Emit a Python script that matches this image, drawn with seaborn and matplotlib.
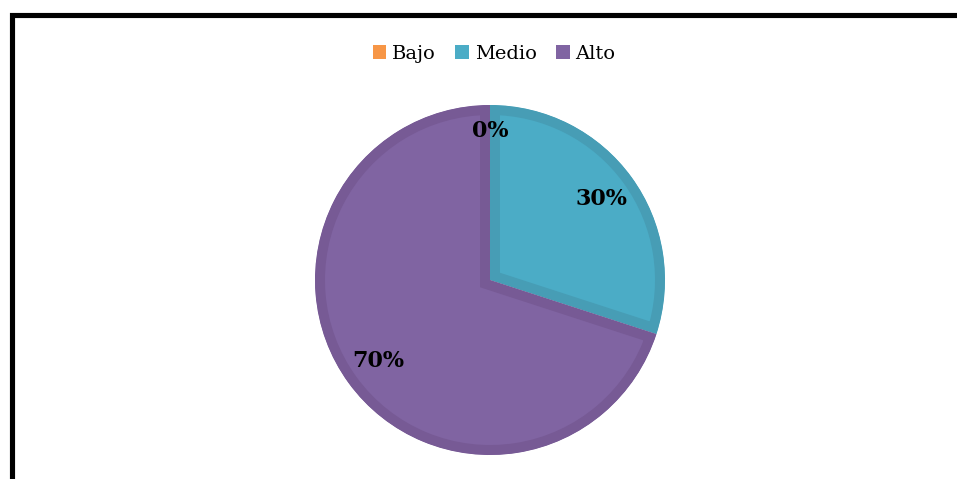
import numpy as np
import matplotlib
matplotlib.use("Agg")
import matplotlib.pyplot as plt
from matplotlib.patches import Rectangle, Patch
import seaborn as sns

# Survey level distribution
categories = ["Bajo", "Medio", "Alto"]
values = [0, 30, 70]
fill_colors = ["#F79646", "#4BACC6", "#8064A2"]
rim_colors = ["#D9803A", "#479DB5", "#775A95"]
label_dist = [0.85, 0.79, 0.79]

sns.set_theme(style="white")
plt.rcParams["font.family"] = ["DejaVu Serif", "DejaVu Sans"]

W, H = 957, 479
fig = plt.figure(figsize=(W / 100, H / 100), dpi=100)
ax = fig.add_axes([0, 0, 1, 1])

cx, cy, r = 490, H - 280, 175
wedges, _ = ax.pie(values, colors=fill_colors, startangle=90, counterclock=False,
                   center=(cx, cy), radius=r,
                   wedgeprops=dict(linewidth=0))

# Darker inner rim on each slice: a thick stroke clipped to the slice itself
for w, rc in zip(wedges, rim_colors):
    w.set_edgecolor(rc)
    w.set_linewidth(14.4)
    w.set_joinstyle("miter")
    w.set_clip_path(w)
    w.set_clip_on(True)

# Percentage labels at slice mid-angles
for w, v, d in zip(wedges, values, label_dist):
    ang = np.deg2rad((w.theta1 + w.theta2) / 2)
    if v == 0:
        ang = np.deg2rad(90)
    ax.text(cx + d * r * np.cos(ang), cy + d * r * np.sin(ang), f"{v}%",
            ha="center", va="center", fontsize=16, fontweight="bold",
            color="black")

ax.set_xlim(0, W)
ax.set_ylim(0, H)
ax.set_aspect("equal")
ax.axis("off")

handles = [Patch(facecolor=c, edgecolor="none") for c in fill_colors]
leg = fig.legend(handles, categories, loc="center", ncol=3,
                 bbox_to_anchor=(494 / W, 1 - 54 / H), frameon=False,
                 fontsize=14, handlelength=0.7, handleheight=0.7,
                 handletextpad=0.3, columnspacing=1.0)
for t in leg.get_texts():
    t.set_color("black")

# Chart frame
fig.add_artist(Rectangle((11.5 / W, -0.1), 1.2, (H - 15.5) / H + 0.1,
                         transform=fig.transFigure, fill=False,
                         edgecolor="black", linewidth=3.7))

fig.savefig("out.png", dpi=100)
